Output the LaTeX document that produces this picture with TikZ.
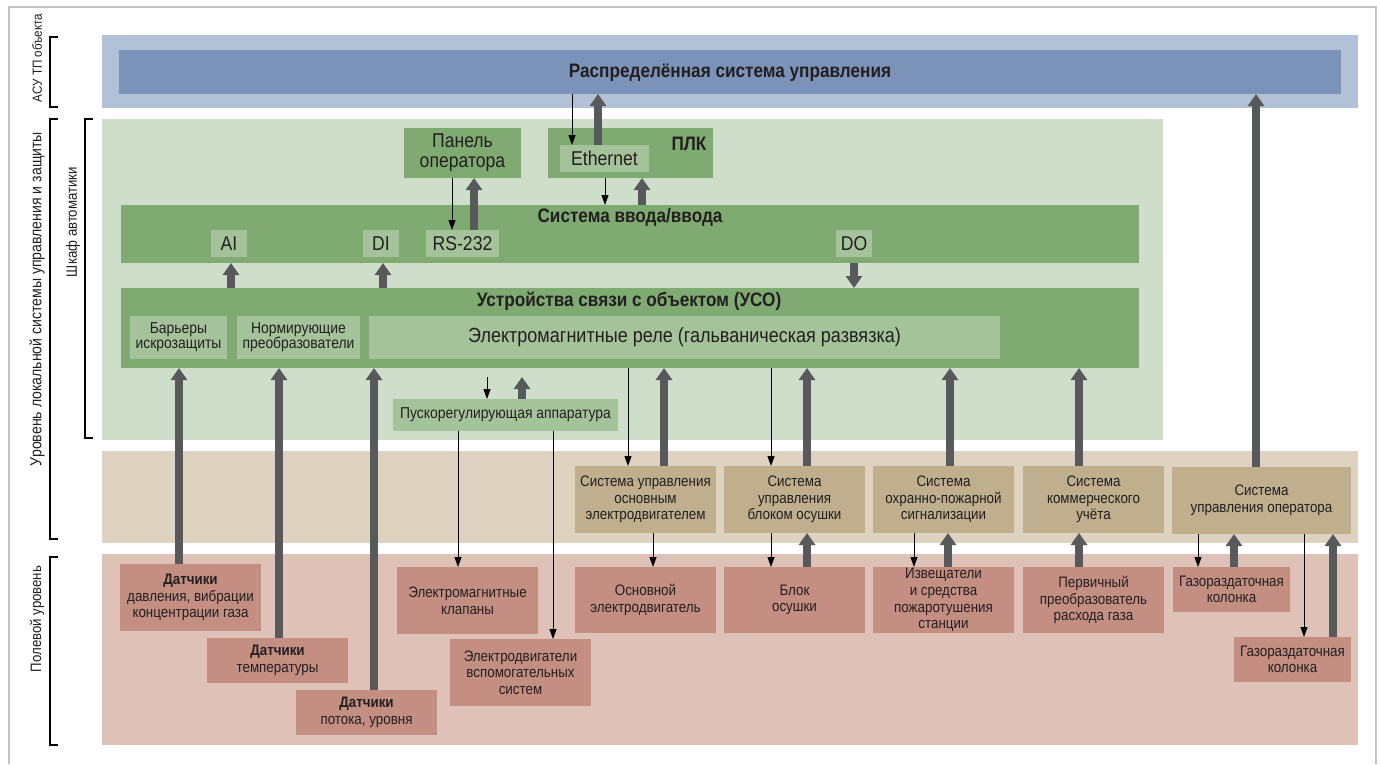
\documentclass[tikz,border=0pt]{standalone}
\usepackage{fontspec}
\setmainfont{Liberation Sans}[FakeStretch=0.88]
\usetikzlibrary{arrows.meta}
\definecolor{blueO}{HTML}{B3C1D8}
\definecolor{blueI}{HTML}{7B93B8}
\definecolor{greenL}{HTML}{CFDECB}
\definecolor{greenD}{HTML}{7FAB72}
\definecolor{greenM}{HTML}{A5C39A}
\definecolor{tanL}{HTML}{DED3C0}
\definecolor{tanD}{HTML}{BFAF8C}
\definecolor{pinkL}{HTML}{DEC2B7}
\definecolor{pinkD}{HTML}{C48F82}
\definecolor{arr}{HTML}{58595B}
\definecolor{txt}{HTML}{231F20}
\definecolor{frm}{HTML}{C4C4C4}
\tikzset{
  base/.style={inner sep=0pt, outer sep=0pt, align=center, text=txt},
  f18b/.style={font=\fontsize{19.5}{21}\selectfont\bfseries},
  f17b/.style={font=\fontsize{19.5}{21}\selectfont\bfseries},
  f18/.style={font=\fontsize{20}{20}\selectfont},
  frel/.style={font=\fontsize{20.5}{22}\selectfont},
  f15/.style={font=\fontsize{15.2}{16.6}\selectfont},
  f14/.style={font=\fontsize{15.8}{15}\selectfont},
  f145/.style={font=\fontsize{15}{16}\selectfont},
  gbox/.style={base, fill=greenD},
  mbox/.style={base, fill=greenM},
  tbox/.style={base, fill=tanD, f15},
  pbox/.style={base, fill=pinkD, f15},
  thk/.style={draw=arr, line width=8pt, -{Triangle[width=16pt,length=12pt]}},
  thn/.style={draw=black, line width=1pt, -{Triangle[width=7pt,length=10pt]}},
  brk/.style={draw=black, line width=1.6pt},
  lbl/.style={base, f145, rotate=90}
}
\begin{document}
\begin{tikzpicture}[x=1pt,y=-1pt]
\useasboundingbox (0,0) rectangle (1380,764);
\fill[white] (0,0) rectangle (1380,764);
% frame
\draw[frm, line width=1.5pt] (9,764) -- (9,7) -- (1376,7) -- (1376,764);
% bands
\fill[blueO] (102,35) rectangle (1358,108);
\fill[greenL] (102,119) rectangle (1163,440);
\fill[tanL] (102,451) rectangle (1358,543);
\fill[pinkL] (102,554) rectangle (1358,745);
% left brackets and labels
\draw[brk] (58,37) -- (50,37) -- (50,107) -- (58,107);
\draw[brk] (58,119) -- (50,119) -- (50,539) -- (58,539);
\draw[brk] (93,119) -- (85,119) -- (85,438) -- (93,438);
\draw[brk] (58,557) -- (50,557) -- (50,745) -- (58,745);
\node[lbl, font=\fontsize{13.2}{14}\selectfont] (lab1) at (37,58) {АСУ ТП объекта};
\node[lbl, font=\fontsize{16}{17}\selectfont] (lab2) at (37,299) {Уровень локальной системы управления и защиты};
\node[lbl] (lab3) at (73,222) {Шкаф автоматики};
\node[lbl] (lab4) at (37,619) {Полевой уровень};
% top
\node[base, fill=blueI, minimum width=1222, minimum height=44, f18b, text depth=2pt] (dcs) at (730,72) {Распределённая система управления};
% green level
\node[gbox, minimum width=117, minimum height=50, f18] (panel) at (462.5,153) {Панель\\оператора};
\node[gbox, minimum width=165, minimum height=50] (plc) at (630.5,153) {};
\node[base, f17b] (plcl) at (689,144) {ПЛК};
\node[mbox, minimum width=89, minimum height=27, f18] (eth) at (604.5,158.5) {Ethernet};
\node[gbox, minimum width=1018, minimum height=58] (io) at (630,234) {};
\node[base, f17b] (iot) at (630,217) {Система ввода/ввода};
\node[mbox, minimum width=36, minimum height=27, f18] (ai) at (229,243.5) {AI};
\node[mbox, minimum width=36, minimum height=27, f18] (di) at (381,243.5) {DI};
\node[mbox, minimum width=73, minimum height=27, f18] (rs) at (462.5,243.5) {RS-232};
\node[mbox, minimum width=36, minimum height=27, f18] (do) at (854,243.5) {DO};
\node[gbox, minimum width=1018, minimum height=80] (uso) at (630,328) {};
\node[base, f17b] (usot) at (629,301) {Устройства связи с объектом (УСО)};
\node[mbox, minimum width=97, minimum height=43, f14] (bar) at (178.5,337.5) {Барьеры\\искрозащиты};
\node[mbox, minimum width=123, minimum height=43, f14] (norm) at (298.5,337.5) {Нормирующие\\преобразователи};
\node[mbox, minimum width=631, minimum height=43, frel] (relay) at (684.5,337.5) {Электромагнитные реле (гальваническая развязка)};
\node[mbox, minimum width=225, minimum height=32, f14] (pusk) at (505.5,415) {Пускорегулирующая аппаратура};
% tan level
\node[tbox, minimum width=141, minimum height=67] (t1) at (645.5,499.5) {Система управления\\основным\\электродвигателем};
\node[tbox, minimum width=141, minimum height=67] (t2) at (794.5,499.5) {Система\\управления\\блоком осушки};
\node[tbox, minimum width=141, minimum height=67] (t3) at (943.5,499.5) {Система\\охранно-пожарной\\сигнализации};
\node[tbox, minimum width=141, minimum height=67] (t4) at (1093.5,499.5) {Система\\коммерческого\\учёта};
\node[tbox, minimum width=179, minimum height=67] (t5) at (1261.5,500.5) {Система\\управления оператора};
% pink level
\node[pbox, minimum width=141, minimum height=67] (pd1) at (190.5,597.5) {\textbf{Датчики}\\давления, вибрации\\концентрации газа};
\node[pbox, minimum width=141, minimum height=45] (pd2) at (277.5,660.5) {\textbf{Датчики}\\температуры};
\node[pbox, minimum width=141, minimum height=45] (pd3) at (366.5,712.5) {\textbf{Датчики}\\потока, уровня};
\node[pbox, minimum width=141, minimum height=67] (pkl) at (467.5,600.5) {Электромагнитные\\клапаны};
\node[pbox, minimum width=141, minimum height=67] (ped) at (520.5,672.5) {Электродвигатели\\вспомогательных\\систем};
\node[pbox, minimum width=141, minimum height=66] (pom) at (645.5,600) {Основной\\электродвигатель};
\node[pbox, minimum width=141, minimum height=66] (pbo) at (794.5,600) {Блок\\осушки};
\node[pbox, minimum width=141, minimum height=66] (piz) at (943.5,600) {Извещатели\\и средства\\пожаротушения\\станции};
\node[pbox, minimum width=141, minimum height=66] (ppp) at (1093.5,600) {Первичный\\преобразователь\\расхода газа};
\node[pbox, minimum width=117, minimum height=45] (pg1) at (1231.5,589.5) {Газораздаточная\\колонка};
\node[pbox, minimum width=117, minimum height=45] (pg2) at (1292.5,659.5) {Газораздаточная\\колонка};
% column coordinates
\foreach \c in {179,229,231,279,374,383,452,458,474,487,522,553,572,598,605,628,642,653,664,771,807,854,914,948,950,1079,1198,1234,1256,1304,1333}
  \coordinate (c\c) at (\c,0);
\coordinate (usob) at ([yshift=-9pt]uso.south);
% thick arrows
\draw[thk] (eth.north -| c598) -- (dcs.south -| c598);
\draw[thk] (io.north -| c642) -- (plc.south -| c642);
\draw[thk] (rs.north -| c474) -- (panel.south -| c474);
\draw[thk] (uso.north -| c231) -- (io.south -| c231);
\draw[thk] (uso.north -| c383) -- (io.south -| c383);
\draw[thk] (io.south -| c854) -- (uso.north -| c854);
\draw[thk] (pd1.north -| c179) -- (uso.south -| c179);
\draw[thk] (pd2.north -| c279) -- (uso.south -| c279);
\draw[thk] (pd3.north -| c374) -- (uso.south -| c374);
\draw[thk] (pusk.north -| c522) -- (usob -| c522);
\draw[thk] (t1.north -| c664) -- (uso.south -| c664);
\draw[thk] (t2.north -| c807) -- (uso.south -| c807);
\draw[thk] (t3.north -| c950) -- (uso.south -| c950);
\draw[thk] (t4.north -| c1079) -- (uso.south -| c1079);
\draw[thk] (t5.north -| c1256) -- (dcs.south -| c1256);
\draw[thk] (pbo.north -| c807) -- (t2.south -| c807);
\draw[thk] (piz.north -| c948) -- (t3.south -| c948);
\draw[thk] (ppp.north -| c1079) -- (t4.south -| c1079);
\draw[thk] (pg1.north -| c1234) -- (t5.south -| c1234);
\draw[thk] (pg2.north -| c1333) -- (t5.south -| c1333);
% thin arrows
\draw[thn] (dcs.south -| c572) -- (eth.north -| c572);
\draw[thn] (plc.south -| c605) -- (io.north -| c605);
\draw[thn] (panel.south -| c452) -- (rs.north -| c452);
\draw[thn] (usob -| c487) -- (pusk.north -| c487);
\draw[thn] (uso.south -| c628) -- (t1.north -| c628);
\draw[thn] (uso.south -| c771) -- (t2.north -| c771);
\draw[thn] (pusk.south -| c458) -- (pkl.north -| c458);
\draw[thn] (pusk.south -| c553) -- (ped.north -| c553);
\draw[thn] (t1.south -| c653) -- (pom.north -| c653);
\draw[thn] (t2.south -| c771) -- (pbo.north -| c771);
\draw[thn] (t3.south -| c914) -- (piz.north -| c914);
\draw[thn] (t5.south -| c1198) -- (pg1.north -| c1198);
\draw[thn] (t5.south -| c1304) -- (pg2.north -| c1304);
\end{tikzpicture}
\end{document}
